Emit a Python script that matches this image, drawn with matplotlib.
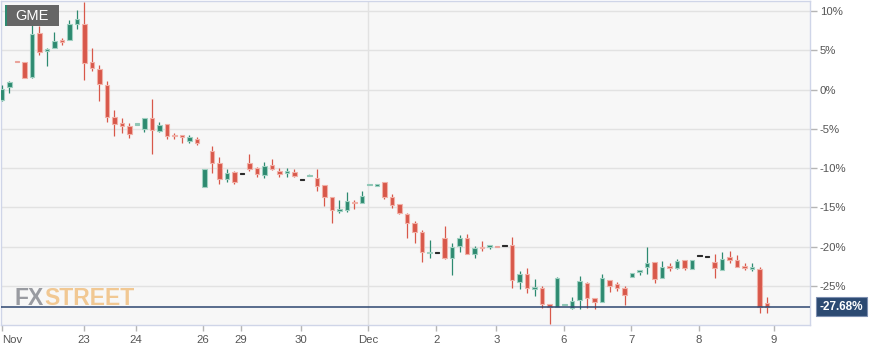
import numpy as np
import matplotlib
matplotlib.use("Agg")
import matplotlib.pyplot as plt
from matplotlib.patches import Rectangle

# GME, % change, one candle per session slot (gaps removed)
opens = [-1.32, 0.33, 3.55, 3.51, 1.60, 7.20, 4.91, 5.30, 6.31, 6.31,
         8.35, 8.35, 3.51, 2.62, 0.59, -3.49, -4.25, -4.63, -4.38, -5.01,
         -3.61, -5.27, -4.38, -5.78, -5.78, -6.54, -6.29, -12.40, -7.81, -9.34,
         -11.38, -10.49, -10.74, -9.34, -9.98, -10.87, -9.60, -10.36, -10.61, -10.49,
         -11.50, -10.99, -11.25, -12.14, -13.67, -15.45, -15.32, -14.30, -14.43, -12.14,
         -12.27, -11.76, -13.67, -14.56, -15.83, -16.98, -18.12, -20.80, -20.80, -18.89,
         -21.43, -19.90, -18.89, -20.92, -20.03, -20.03, -20.03, -19.90, -19.78, -24.49,
         -23.47, -25.38, -25.25, -27.29, -27.67, -27.41, -27.80, -26.78, -24.61, -26.52,
         -27.03, -24.23, -24.74, -25.25, -23.85, -23.21, -22.58, -21.94, -23.98, -22.58,
         -22.70, -21.68, -22.83, -21.18, -21.30, -21.94, -22.96, -21.30, -21.68, -22.45,
         -22.83, -22.83, -27.16]
closes = [0.08, 0.97, 3.51, 1.48, 7.08, 4.79, 5.17, 6.19, 6.06, 8.35,
          8.99, 3.39, 2.75, 0.71, -3.49, -4.38, -4.63, -5.65, -4.38, -3.61,
          -5.14, -4.50, -5.90, -5.90, -6.03, -6.03, -6.80, -10.10, -9.34, -11.38,
          -10.61, -11.76, -10.74, -10.10, -10.74, -9.72, -10.10, -10.74, -10.36, -10.99,
          -11.50, -10.87, -12.27, -13.67, -15.32, -15.19, -14.18, -14.43, -13.54, -12.14,
          -12.01, -13.67, -14.69, -15.70, -16.98, -18.12, -20.67, -20.67, -20.80, -21.43,
          -20.03, -18.89, -20.92, -20.16, -20.16, -19.90, -20.03, -19.90, -24.23, -23.47,
          -25.25, -25.12, -27.29, -27.67, -23.98, -27.41, -26.90, -24.36, -26.52, -27.03,
          -23.98, -24.99, -25.25, -26.14, -23.34, -23.09, -22.07, -24.10, -22.58, -22.70,
          -21.81, -22.70, -21.68, -21.18, -21.30, -22.70, -21.56, -21.68, -22.58, -22.70,
          -22.70, -27.67, -27.68]
highs = [0.59, 1.09, 3.55, 3.51, 8.48, 8.10, 5.30, 7.33, 6.57, 8.86,
         10.13, 11.15, 5.30, 3.13, 1.09, -2.60, -3.61, -4.25, -4.38, -3.61,
         -1.20, -4.12, -4.38, -5.52, -5.78, -5.78, -6.03, -10.10, -7.18, -8.58,
         -10.10, -10.36, -10.74, -8.20, -9.85, -9.21, -8.83, -9.98, -9.98, -10.10,
         -11.50, -10.74, -10.10, -12.14, -13.67, -14.05, -13.03, -14.05, -12.90, -12.14,
         -12.01, -11.76, -13.29, -14.56, -15.70, -16.72, -17.87, -19.14, -20.80, -17.36,
         -19.52, -18.50, -18.38, -19.90, -19.27, -19.78, -20.03, -19.90, -18.76, -23.09,
         -22.70, -24.10, -24.99, -27.29, -23.85, -27.41, -26.39, -23.72, -24.49, -26.52,
         -23.47, -24.23, -24.49, -24.99, -23.34, -23.09, -20.03, -21.94, -21.81, -22.07,
         -21.56, -21.68, -21.68, -21.18, -21.30, -20.92, -20.67, -20.54, -21.05, -22.07,
         -22.07, -22.58, -26.39]
lows = [-1.45, -0.43, 3.51, 1.48, 1.48, 4.40, 3.00, 5.30, 5.68, 6.31,
        7.71, 1.22, 2.37, -1.45, -4.12, -5.90, -5.52, -6.16, -4.38, -5.40,
        -8.20, -5.40, -6.29, -6.29, -6.80, -6.80, -7.05, -12.40, -10.61, -12.01,
        -11.76, -12.01, -10.74, -10.36, -11.12, -11.25, -10.23, -11.12, -11.12, -11.12,
        -11.50, -10.99, -12.90, -14.81, -16.98, -15.70, -15.58, -15.19, -14.43, -12.14,
        -12.27, -13.92, -15.07, -15.83, -18.89, -19.52, -21.94, -21.43, -20.80, -21.56,
        -23.59, -20.67, -20.92, -21.43, -20.54, -20.29, -20.03, -19.90, -25.25, -25.38,
        -25.89, -26.27, -27.80, -29.83, -27.67, -27.41, -27.92, -27.92, -27.80, -27.92,
        -27.03, -25.76, -25.63, -27.41, -23.85, -23.59, -23.47, -24.61, -23.98, -23.09,
        -22.83, -22.96, -22.83, -21.18, -21.30, -23.98, -22.96, -22.07, -22.58, -22.96,
        -23.09, -28.43, -28.43]
# thin pre/post-market slots drawn faded: green ones and red ones
faded_up = [18, 41, 49, 75]
faded_down = [2, 66]

tick_pos = [0, 10.9, 17.9, 26.8, 31.9, 39.9, 48.8, 57.9, 65.9, 74.9, 83.9, 92.9, 102.9]
tick_labels = ["Nov", "23", "24", "26", "29", "30", "Dec", "2", "3", "6", "7", "8", "9"]
y_ticks = [-25, -20, -15, -10, -5, 0, 5, 10]
last_value = -27.68

GREEN, GREEN_EDGE, GREEN_FADE = "#2d8a70", "#9fd0c1", "#8fc7b6"
RED, RED_EDGE, RED_FADE = "#d8584a", "#f1b0a7", "#eaa39b"
DOJI = "#2b2b2b"
FONT = ["Liberation Sans", "DejaVu Sans"]


def main():
    fig = plt.figure(figsize=(8.81, 3.51), dpi=100, facecolor="white")
    ax = fig.add_axes([1 / 881, 26 / 351, 809 / 881, 324 / 351])
    ax.set_facecolor("#f7f7f7")

    x = np.arange(len(opens))
    o = np.array(opens); c = np.array(closes)
    h = np.array(highs); l = np.array(lows)

    for i in x:
        up = c[i] > o[i]
        flat = abs(c[i] - o[i]) < 0.01
        if i in faded_up:
            col = edge = GREEN_FADE
        elif i in faded_down:
            col = edge = RED_FADE
        elif flat:
            col = edge = DOJI
        else:
            col = GREEN if up else RED
            edge = GREEN_EDGE if up else RED_EDGE
        if h[i] - l[i] > 0.05:
            ax.vlines(i, l[i], h[i], color=col, lw=0.9, zorder=3)
        bottom = min(o[i], c[i])
        height = max(abs(c[i] - o[i]), 0.16)
        if flat:
            bottom -= 0.08
        ax.bar(i, height, bottom=bottom, width=0.62, color=col,
               edgecolor=edge, linewidth=0.8, zorder=4)

    ax.set_xlim(-0.13, 107.73)
    ax.set_ylim(-30.0, 11.28)

    # grid
    for yv in y_ticks:
        ax.axhline(yv, color="#e2e2e2", lw=1, zorder=1)
    ax.axvline(48.8, color="#e2e2e2", lw=1, zorder=1)

    # last price line
    ax.axhline(last_value, color="#2d4670", lw=1.1, zorder=5)

    for s in ax.spines.values():
        s.set_color("#cfd5e8")
        s.set_linewidth(1)

    ax.yaxis.tick_right()
    ax.set_yticks(y_ticks)
    ax.set_yticklabels([f"{v}%" for v in y_ticks])
    ax.set_xticks(tick_pos)
    ax.set_xticklabels(tick_labels)
    ax.get_xticklabels()[0].set_ha("left")
    ax.tick_params(axis="y", length=5, width=1, color="#b5b5b5", pad=2,
                   labelsize=8.2, labelcolor="#555555")
    ax.tick_params(axis="x", length=4, width=1, color="#b5b5b5", pad=3,
                   labelsize=8.2, labelcolor="#555555")
    for t in ax.get_xticklabels() + ax.get_yticklabels():
        t.set_fontfamily(FONT)

    # last value badge
    ax.annotate(f"{last_value:.2f}%", xy=(1.0, last_value), xycoords=("axes fraction", "data"),
                xytext=(7, 0), textcoords="offset points", ha="left", va="center",
                color="white", fontsize=8.5, fontweight="bold", family=FONT,
                bbox=dict(boxstyle="square,pad=0.3", fc="#2c4a72", ec="#7d8fb0", lw=0.8),
                annotation_clip=False, zorder=10)

    # ticker label
    ax.add_patch(Rectangle((4 / 809, 1 - 25 / 324), 54 / 809, 21 / 324,
                           transform=ax.transAxes, fc="#666666", ec="none", zorder=8))
    ax.add_patch(Rectangle((4 / 809, 1 - 25 / 324), 2 / 809, 21 / 324,
                           transform=ax.transAxes, fc=GREEN, ec="none", zorder=9))
    ax.text(31 / 809, 1 - 15 / 324, "GME", transform=ax.transAxes, ha="center", va="center",
            color="white", fontsize=10.5, family=FONT, zorder=9)

    # watermark
    wm = dict(transform=ax.transAxes, va="baseline", fontsize=16.5, fontweight="bold",
              family=FONT, zorder=2, alpha=0.9)
    t1 = ax.text(14 / 809, 1 - 304 / 324, "FX", color="#8f9198", **wm)
    fig.canvas.draw()
    bb = t1.get_window_extent().transformed(ax.transAxes.inverted())
    ax.text(bb.x1, 1 - 304 / 324, "STREET", color="#f1c388", **wm)

    fig.savefig("out.png", dpi=100, facecolor="white")
    plt.close(fig)


if __name__ == "__main__":
    main()
